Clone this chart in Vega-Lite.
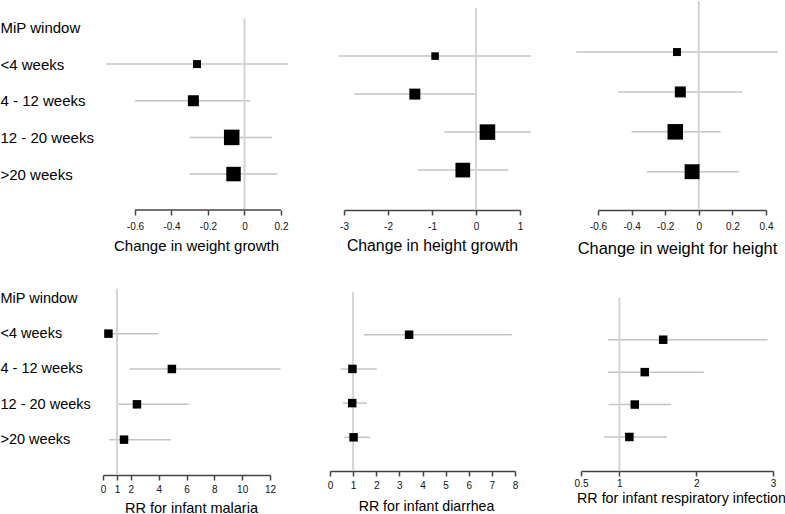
{
  "$schema": "https://vega.github.io/schema/vega-lite/v6.json",
  "padding": 0,
  "background": "white",
  "config": {
    "font": "Liberation Sans",
    "view": {"stroke": null},
    "axis": {
      "grid": false,
      "tickColor": "#444",
      "domainColor": "#444",
      "tickWidth": 1.5,
      "domainWidth": 1.5,
      "tickSize": 5,
      "labelFontSize": 10,
      "labelColor": "#111",
      "titleFontWeight": "normal",
      "titleColor": "#000",
      "labelFlush": false,
      "labelOverlap": false,
      "labelBound": false
    }
  },
  "datasets": {
    "weightGrowth": [
      {"window": "<4 weeks", "row": 1, "est": -0.26, "lo": -0.76, "hi": 0.24, "weight": 10},
      {"window": "4 - 12 weeks", "row": 2, "est": -0.28, "lo": -0.60, "hi": 0.03, "weight": 19},
      {"window": "12 - 20 weeks", "row": 3, "est": -0.07, "lo": -0.30, "hi": 0.15, "weight": 38},
      {"window": ">20 weeks", "row": 4, "est": -0.06, "lo": -0.30, "hi": 0.18, "weight": 33}
    ],
    "heightGrowth": [
      {"window": "<4 weeks", "row": 1, "est": -0.93, "lo": -3.11, "hi": 1.25, "weight": 9},
      {"window": "4 - 12 weeks", "row": 2, "est": -1.39, "lo": -2.76, "hi": -0.02, "weight": 19},
      {"window": "12 - 20 weeks", "row": 3, "est": 0.26, "lo": -0.72, "hi": 1.25, "weight": 38},
      {"window": ">20 weeks", "row": 4, "est": -0.30, "lo": -1.33, "hi": 0.74, "weight": 34}
    ],
    "weightForHeight": [
      {"window": "<4 weeks", "row": 1, "est": -0.13, "lo": -0.73, "hi": 0.47, "weight": 10},
      {"window": "4 - 12 weeks", "row": 2, "est": -0.11, "lo": -0.48, "hi": 0.26, "weight": 19},
      {"window": "12 - 20 weeks", "row": 3, "est": -0.14, "lo": -0.40, "hi": 0.13, "weight": 38},
      {"window": ">20 weeks", "row": 4, "est": -0.04, "lo": -0.31, "hi": 0.24, "weight": 35}
    ],
    "malaria": [
      {"window": "<4 weeks", "row": 1, "est": 0.39, "lo": 0.1, "hi": 3.96},
      {"window": "4 - 12 weeks", "row": 2, "est": 4.95, "lo": 1.9, "hi": 12.76},
      {"window": "12 - 20 weeks", "row": 3, "est": 2.44, "lo": 0.96, "hi": 6.19},
      {"window": ">20 weeks", "row": 4, "est": 1.51, "lo": 0.45, "hi": 4.89}
    ],
    "diarrhea": [
      {"window": "<4 weeks", "row": 1, "est": 3.42, "lo": 1.47, "hi": 7.86},
      {"window": "4 - 12 weeks", "row": 2, "est": 0.97, "lo": 0.46, "hi": 2.03},
      {"window": "12 - 20 weeks", "row": 3, "est": 0.96, "lo": 0.56, "hi": 1.60},
      {"window": ">20 weeks", "row": 4, "est": 1.02, "lo": 0.60, "hi": 1.72}
    ],
    "respiratory": [
      {"window": "<4 weeks", "row": 1, "est": 1.57, "lo": 0.85, "hi": 2.93},
      {"window": "4 - 12 weeks", "row": 2, "est": 1.33, "lo": 0.85, "hi": 2.10},
      {"window": "12 - 20 weeks", "row": 3, "est": 1.20, "lo": 0.86, "hi": 1.67},
      {"window": ">20 weeks", "row": 4, "est": 1.13, "lo": 0.80, "hi": 1.62}
    ]
  },
  "spacing": 30,
  "vconcat": [
    {
      "bounds": "flush",
      "spacing": 63,
      "hconcat": [
        {
          "width": 178,
          "height": 209,
          "layer": [
            {
              "data": {"name": "weightGrowth"},
              "mark": {"type": "rule", "color": "#c4c4c4", "strokeWidth": 1.5},
              "encoding": {
                "x": {"field": "lo", "type": "quantitative", "title": "Change in weight growth",
                  "scale": {"domain": [-0.775, 0.2], "nice": false, "zero": false},
                  "axis": {"domain": false, "values": [-0.6, -0.4, -0.2, 0, 0.2], "tickCount": 30, "labelExpr": "toString(datum.value)", "labelOverlap": false, "labelPadding": 6, "titleFontSize": 15, "titlePadding": 7, "titleX": 93}},
                "x2": {"field": "hi"},
                "y": {"field": "row", "type": "quantitative", "title": null,
                  "scale": {"domain": [-0.72, 4.98], "reverse": true, "nice": false, "zero": false},
                  "axis": {"values": [0, 1, 2, 3, 4], "tickCount": 30, "labelExpr": "['MiP window','<4 weeks','4 - 12 weeks','12 - 20 weeks','>20 weeks'][datum.value]", "labelOverlap": false, "domain": false, "ticks": false, "tickSize": 0, "labelAlign": "left", "labelBaseline": "middle", "labelPadding": 103, "labelFontSize": 15, "labelColor": "#000", "labelLimit": 0}}
              }
            },
            {
              "data": {"values": [{"ref": 0, "top": -0.25, "bottom": 4.98}]},
              "mark": {"type": "rule", "color": "#d4d4d4", "strokeWidth": 2},
              "encoding": {
                "x": {"field": "ref", "type": "quantitative", "title": "Change in weight growth"},
                "y": {"field": "top", "type": "quantitative", "title": null},
                "y2": {"field": "bottom"}
              }
            },
            {
              "data": {"name": "weightGrowth"},
              "mark": {"type": "square", "color": "black", "opacity": 1},
              "encoding": {
                "x": {"field": "est", "type": "quantitative", "title": "Change in weight growth"},
                "y": {"field": "row", "type": "quantitative", "title": null},
                "size": {"field": "weight", "type": "quantitative", "scale": {"domain": [0, 40], "range": [0, 254]}, "legend": null}
              }
            },
            {
              "data": {"values": [{"from": -0.6, "to": 0.2, "base": 4.98}]},
              "mark": {"type": "rule", "color": "#444", "strokeWidth": 1.5},
              "encoding": {
                "x": {"field": "from", "type": "quantitative", "title": "Change in weight growth"},
                "x2": {"field": "to"},
                "y": {"field": "base", "type": "quantitative", "title": null}
              }
            }
          ]
        },
        {
          "bounds": "flush",
          "spacing": 78,
          "hconcat": [
            {
              "width": 176,
              "height": 209,
              "layer": [
                {
                  "data": {"name": "heightGrowth"},
                  "mark": {"type": "rule", "color": "#c4c4c4", "strokeWidth": 1.5},
                  "encoding": {
                    "x": {"field": "lo", "type": "quantitative", "title": "Change in height growth",
                      "scale": {"domain": [-3, 1], "nice": false, "zero": false},
                      "axis": {"values": [-3, -2, -1, 0, 1], "tickCount": 30, "labelExpr": "toString(datum.value)", "labelOverlap": false, "labelPadding": 6, "titleFontSize": 15.8, "titlePadding": 7}},
                    "x2": {"field": "hi"},
                    "y": {"field": "row", "type": "quantitative", "title": null,
                      "scale": {"domain": [-0.45, 5.05], "reverse": true, "nice": false, "zero": false},
                      "axis": null}
                  }
                },
                {
                  "data": {"values": [{"ref": 0, "top": -0.26, "bottom": 5.05}]},
                  "mark": {"type": "rule", "color": "#d4d4d4", "strokeWidth": 2},
                  "encoding": {
                    "x": {"field": "ref", "type": "quantitative", "title": "Change in height growth"},
                    "y": {"field": "top", "type": "quantitative", "title": null},
                    "y2": {"field": "bottom"}
                  }
                },
                {
                  "data": {"name": "heightGrowth"},
                  "mark": {"type": "square", "color": "black", "opacity": 1},
                  "encoding": {
                    "x": {"field": "est", "type": "quantitative", "title": "Change in height growth"},
                    "y": {"field": "row", "type": "quantitative", "title": null},
                    "size": {"field": "weight", "type": "quantitative", "scale": {"domain": [0, 40], "range": [0, 254]}, "legend": null}
                  }
                }
              ]
            },
            {
              "width": 168,
              "height": 209,
              "layer": [
                {
                  "data": {"name": "weightForHeight"},
                  "mark": {"type": "rule", "color": "#c4c4c4", "strokeWidth": 1.5},
                  "encoding": {
                    "x": {"field": "lo", "type": "quantitative", "title": "Change in weight for height",
                      "scale": {"domain": [-0.6, 0.4], "nice": false, "zero": false},
                      "axis": {"values": [-0.6, -0.4, -0.2, 0, 0.2, 0.4], "tickCount": 30, "labelExpr": "toString(datum.value)", "labelOverlap": false, "labelPadding": 6, "titleFontSize": 16.4, "titlePadding": 9, "titleX": 79}},
                    "x2": {"field": "hi"},
                    "y": {"field": "row", "type": "quantitative", "title": null,
                      "scale": {"domain": [-0.28, 4.96], "reverse": true, "nice": false, "zero": false},
                      "axis": null}
                  }
                },
                {
                  "data": {"values": [{"ref": 0, "top": -0.28, "bottom": 4.96}]},
                  "mark": {"type": "rule", "color": "#d4d4d4", "strokeWidth": 2},
                  "encoding": {
                    "x": {"field": "ref", "type": "quantitative", "title": "Change in weight for height"},
                    "y": {"field": "top", "type": "quantitative", "title": null},
                    "y2": {"field": "bottom"}
                  }
                },
                {
                  "data": {"name": "weightForHeight"},
                  "mark": {"type": "square", "color": "black", "opacity": 1},
                  "encoding": {
                    "x": {"field": "est", "type": "quantitative", "title": "Change in weight for height"},
                    "y": {"field": "row", "type": "quantitative", "title": null},
                    "size": {"field": "weight", "type": "quantitative", "scale": {"domain": [0, 40], "range": [0, 254]}, "legend": null}
                  }
                }
              ]
            }
          ]
        }
      ]
    },
    {
      "bounds": "flush",
      "spacing": 60,
      "hconcat": [
        {
          "width": 167,
          "height": 188,
          "layer": [
            {
              "data": {"name": "malaria"},
              "mark": {"type": "rule", "color": "#c4c4c4", "strokeWidth": 1.5},
              "encoding": {
                "x": {"field": "lo", "type": "quantitative", "title": "RR for infant malaria",
                  "scale": {"domain": [0, 12], "nice": false, "zero": false},
                  "axis": {"values": [0, 1, 2, 4, 6, 8, 10, 12], "tickCount": 30, "labelExpr": "toString(datum.value)", "labelOverlap": false, "labelPadding": 4, "titleFontSize": 14.5, "titlePadding": 7, "titleX": 88}},
                "x2": {"field": "hi"},
                "y": {"field": "row", "type": "quantitative", "title": null,
                  "scale": {"domain": [-0.32, 5.0], "reverse": true, "nice": false, "zero": false},
                  "axis": {"values": [0, 1, 2, 3, 4], "tickCount": 30, "labelExpr": "['MiP window','<4 weeks','4 - 12 weeks','12 - 20 weeks','>20 weeks'][datum.value]", "labelOverlap": false, "domain": false, "ticks": false, "tickSize": 0, "labelAlign": "left", "labelBaseline": "middle", "labelPadding": 103, "labelFontSize": 14.5, "labelColor": "#000", "labelLimit": 0}}
              }
            },
            {
              "data": {"values": [{"ref": 1, "top": -0.27, "bottom": 5.0}]},
              "mark": {"type": "rule", "color": "#d4d4d4", "strokeWidth": 2},
              "encoding": {
                "x": {"field": "ref", "type": "quantitative", "title": "RR for infant malaria"},
                "y": {"field": "top", "type": "quantitative", "title": null},
                "y2": {"field": "bottom"}
              }
            },
            {
              "data": {"name": "malaria"},
              "mark": {"type": "square", "color": "black", "opacity": 1, "size": 72},
              "encoding": {
                "x": {"field": "est", "type": "quantitative", "title": "RR for infant malaria"},
                "y": {"field": "row", "type": "quantitative", "title": null}
              }
            }
          ]
        },
        {
          "bounds": "flush",
          "spacing": 66,
          "hconcat": [
            {
              "width": 185,
              "height": 184,
              "layer": [
                {
                  "data": {"name": "diarrhea"},
                  "mark": {"type": "rule", "color": "#c4c4c4", "strokeWidth": 1.5},
                  "encoding": {
                    "x": {"field": "lo", "type": "quantitative", "title": "RR for infant diarrhea",
                      "scale": {"domain": [0, 8], "nice": false, "zero": false},
                      "axis": {"values": [0, 1, 2, 3, 4, 5, 6, 7, 8], "tickCount": 30, "labelExpr": "toString(datum.value)", "labelOverlap": false, "labelPadding": 4, "titleFontSize": 14.2, "titlePadding": 9, "titleX": 96}},
                    "x2": {"field": "hi"},
                    "y": {"field": "row", "type": "quantitative", "title": null,
                      "scale": {"domain": [-0.395, 4.985], "reverse": true, "nice": false, "zero": false},
                      "axis": null}
                  }
                },
                {
                  "data": {"values": [{"ref": 1, "top": -0.25, "bottom": 4.985}]},
                  "mark": {"type": "rule", "color": "#d4d4d4", "strokeWidth": 2},
                  "encoding": {
                    "x": {"field": "ref", "type": "quantitative", "title": "RR for infant diarrhea"},
                    "y": {"field": "top", "type": "quantitative", "title": null},
                    "y2": {"field": "bottom"}
                  }
                },
                {
                  "data": {"name": "diarrhea"},
                  "mark": {"type": "square", "color": "black", "opacity": 1, "size": 72},
                  "encoding": {
                    "x": {"field": "est", "type": "quantitative", "title": "RR for infant diarrhea"},
                    "y": {"field": "row", "type": "quantitative", "title": null}
                  }
                }
              ]
            },
            {
              "width": 192,
              "height": 184,
              "layer": [
                {
                  "data": {"name": "respiratory"},
                  "mark": {"type": "rule", "color": "#c4c4c4", "strokeWidth": 1.5},
                  "encoding": {
                    "x": {"field": "lo", "type": "quantitative", "title": "RR for infant respiratory infection",
                      "scale": {"domain": [0.5, 3], "nice": false, "zero": false},
                      "axis": {"values": [0.5, 1, 2, 3], "tickCount": 30, "labelExpr": "toString(datum.value)", "labelOverlap": false, "labelPadding": 2, "titleFontSize": 14.3, "titlePadding": 3, "titleX": 100}},
                    "x2": {"field": "hi"},
                    "y": {"field": "row", "type": "quantitative", "title": null,
                      "scale": {"domain": [-0.626, 5.05], "reverse": true, "nice": false, "zero": false},
                      "axis": null}
                  }
                },
                {
                  "data": {"values": [{"ref": 1, "top": -0.29, "bottom": 5.05}]},
                  "mark": {"type": "rule", "color": "#d4d4d4", "strokeWidth": 2},
                  "encoding": {
                    "x": {"field": "ref", "type": "quantitative", "title": "RR for infant respiratory infection"},
                    "y": {"field": "top", "type": "quantitative", "title": null},
                    "y2": {"field": "bottom"}
                  }
                },
                {
                  "data": {"name": "respiratory"},
                  "mark": {"type": "square", "color": "black", "opacity": 1, "size": 72},
                  "encoding": {
                    "x": {"field": "est", "type": "quantitative", "title": "RR for infant respiratory infection"},
                    "y": {"field": "row", "type": "quantitative", "title": null}
                  }
                }
              ]
            }
          ]
        }
      ]
    }
  ]
}
